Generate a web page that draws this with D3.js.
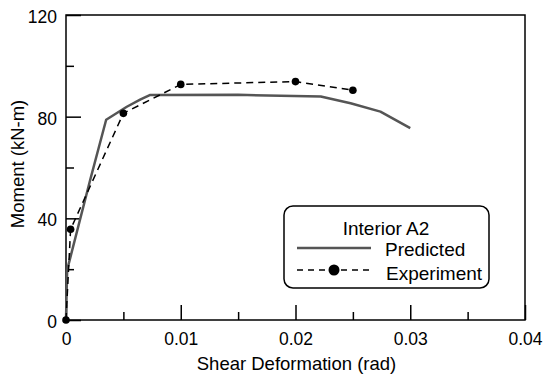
<!DOCTYPE html>
<html>
<head>
<meta charset="utf-8">
<script src="https://cdn.jsdelivr.net/npm/d3@7"></script>
<style>
  body { margin: 0; background: #fff; }
  text { font-family: "Liberation Sans", Arial, sans-serif; fill: #000; }
</style>
</head>
<body>
<script>
  // predicted curve (rad, kN-m)
  var predX = [0, 0.0001, 0.0021, 0.0035, 0.0053, 0.0065, 0.0073, 0.015, 0.0222, 0.0248, 0.0274, 0.030];
  var predY = [0, 19.7, 55, 78.8, 83.9, 86.8, 88.5, 88.6, 87.9, 85.3, 82.0, 75.5];
  // experiment points
  var expX = [0, 0.0004, 0.005, 0.01, 0.02, 0.025];
  var expY = [0, 35.7, 81.3, 92.7, 93.8, 90.4];
  var xTicks = [0, 0.01, 0.02, 0.03, 0.04];
  var xMinor = [0.005, 0.015, 0.025, 0.035];
  var yTicks = [0, 40, 80, 120];
  var yMinor = [20, 60, 100];

  var W = 543, H = 378;
  var margin = {top: 15, right: 18, bottom: 58, left: 66};
  var width = W - margin.left - margin.right;
  var height = H - margin.top - margin.bottom;

  var xScale = d3.scaleLinear().domain([0, 0.04]).range([0, width]);
  var yScale = d3.scaleLinear().domain([0, 120]).range([height, 0]);

  var svg = d3.select("body").append("svg")
    .attr("width", W)
    .attr("height", H);
  var g = svg.append("g")
    .attr("transform", "translate(" + margin.left + "," + margin.top + ")");

  // frame
  g.append("rect")
    .attr("width", width).attr("height", height)
    .attr("fill", "none").attr("stroke", "#000").attr("stroke-width", 1.5);

  // axes, ticks pointing inward
  g.append("g").attr("transform", "translate(0," + height + ")")
    .call(d3.axisBottom(xScale).tickValues(xTicks).tickSize(-15).tickPadding(13)
      .tickFormat(function(d){ return d === 0 ? "0" : d3.format(".2f")(d); }));
  g.append("g").attr("transform", "translate(0," + height + ")")
    .call(d3.axisBottom(xScale).tickValues(xMinor).tickSize(-8).tickFormat(""));

  var yAxis = g.append("g")
    .call(d3.axisLeft(yScale).tickValues(yTicks).tickSize(-15).tickPadding(9));
  g.append("g")
    .call(d3.axisLeft(yScale).tickValues(yMinor).tickSize(-8).tickFormat(""));

  g.selectAll(".domain").remove();
  g.selectAll(".tick line").attr("stroke", "#000").attr("stroke-width", 1.5);
  g.selectAll(".tick text").attr("font-size", "17.5px").attr("fill", "#000");
  yAxis.selectAll(".tick text").attr("dy", "0.42em");

  // axis titles
  svg.append("text")
    .attr("x", margin.left + width / 2 + 1)
    .attr("y", 370)
    .attr("text-anchor", "middle")
    .attr("font-size", "18.5px")
    .text("Shear Deformation (rad)");
  svg.append("text")
    .attr("transform", "translate(24," + 164 + ") rotate(-90)")
    .attr("text-anchor", "middle")
    .attr("font-size", "18.5px")
    .text("Moment (kN-m)");

  var line = d3.line()
    .x(function(d){ return xScale(d[0]); })
    .y(function(d){ return yScale(d[1]); });

  var pred = predX.map(function(x, i){ return [x, predY[i]]; });
  var exp = expX.map(function(x, i){ return [x, expY[i]]; });

  g.append("path").datum(pred)
    .attr("d", line)
    .attr("fill", "none")
    .attr("stroke", "#555")
    .attr("stroke-width", 2.5)
    .attr("stroke-linejoin", "round");

  g.append("path").datum(exp)
    .attr("d", line)
    .attr("fill", "none")
    .attr("stroke", "#000")
    .attr("stroke-width", 1.5)
    .attr("stroke-dasharray", "7,5");

  g.selectAll("circle.pt").data(exp).enter()
    .append("circle").attr("class", "pt")
    .attr("cx", function(d){ return xScale(d[0]); })
    .attr("cy", function(d){ return yScale(d[1]); })
    .attr("r", 3.8)
    .attr("fill", "#000");

  // legend
  var leg = svg.append("g");
  leg.append("rect")
    .attr("x", 284).attr("y", 206).attr("width", 205).attr("height", 82)
    .attr("rx", 9).attr("ry", 9)
    .attr("fill", "#fff").attr("stroke", "#000").attr("stroke-width", 1.5);
  leg.append("text").attr("x", 386).attr("y", 234.5)
    .attr("text-anchor", "middle").attr("font-size", "19px").text("Interior A2");
  leg.append("line").attr("x1", 297).attr("x2", 371).attr("y1", 248).attr("y2", 248)
    .attr("stroke", "#555").attr("stroke-width", 2.5);
  leg.append("text").attr("x", 385).attr("y", 255.5).attr("font-size", "19px").text("Predicted");
  leg.append("line").attr("x1", 297).attr("x2", 371).attr("y1", 270).attr("y2", 270)
    .attr("stroke", "#000").attr("stroke-width", 1.5).attr("stroke-dasharray", "6,5");
  leg.append("circle").attr("cx", 334).attr("cy", 270).attr("r", 5.5).attr("fill", "#000");
  leg.append("text").attr("x", 386).attr("y", 280).attr("font-size", "19px").text("Experiment");
</script>
</body>
</html>
